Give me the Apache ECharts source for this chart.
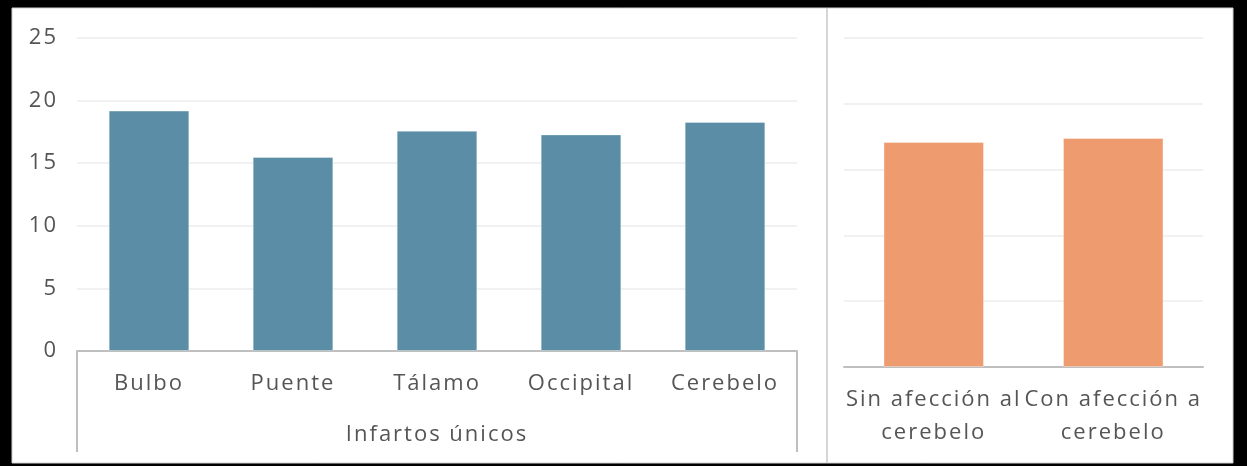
<!DOCTYPE html>
<html>
<head>
<meta charset="utf-8">
<script src="https://cdn.jsdelivr.net/npm/echarts@6/dist/echarts.min.js"></script>
<style>
html,body{margin:0;padding:0;background:#000;}
#chart{width:1247px;height:466px;}
</style>
</head>
<body>
<div id="chart"></div>
<script>
// ---- data ----
const categoriesLeft = ['Bulbo', 'Puente', 'Tálamo', 'Occipital', 'Cerebelo'];
const valuesLeft = [19.2, 15.5, 17.6, 17.3, 18.3];
const groupLabelLeft = ['Infartos únicos'];
const categoriesRight = ['Sin afección al\ncerebelo', 'Con afección a\ncerebelo'];
const valuesRight = [17.1, 17.4];
const yMin = 0, yMax = 25, yStep = 5;

// slight letter spacing to mimic the original text rendering
(function () {
  const p = CanvasRenderingContext2D.prototype;
  const orig = p.fillText;
  p.fillText = function () {
    if ('letterSpacing' in this) this.letterSpacing = '2px';
    return orig.apply(this, arguments);
  };
})();

const FONT = 'Open Sans';
const TXT = '#555555';
const AXIS = '#bfbfbf';
const GRID = '#ededed';

const chart = echarts.init(document.getElementById('chart'), null, { renderer: 'canvas' });
chart.setOption({
  backgroundColor: '#000',
  animation: false,
  textStyle: { fontFamily: FONT },
  graphic: [
    { type: 'rect', z: -10, shape: { x: 12, y: 8, width: 1221, height: 455 },
      style: { fill: '#fff', stroke: '#d0d0d0', lineWidth: 1 } },
    { type: 'line', z: -9, shape: { x1: 827, y1: 8, x2: 827, y2: 463 },
      style: { stroke: '#d6d6d6', lineWidth: 2 } }
  ],
  grid: [
    { left: 77, top: 38, width: 720, height: 313 },
    { left: 844, top: 38, width: 359, height: 329 }
  ],
  xAxis: [
    { type: 'category', gridIndex: 0, data: categoriesLeft,
      axisLine: { lineStyle: { color: AXIS, width: 2 } },
      axisTick: { show: false },
      axisLabel: { interval: 0, margin: 22, fontSize: 22, color: TXT, fontFamily: FONT } },
    { type: 'category', gridIndex: 0, position: 'bottom', data: groupLabelLeft,
      axisLine: { show: false },
      axisTick: { show: true, length: 101, lineStyle: { color: AXIS, width: 2 } },
      axisLabel: { interval: 0, margin: 73, fontSize: 22, color: TXT, fontFamily: FONT } },
    { type: 'category', gridIndex: 1, data: categoriesRight,
      axisLine: { lineStyle: { color: AXIS, width: 2 } },
      axisTick: { show: false },
      axisLabel: { interval: 0, margin: 16, fontSize: 22, lineHeight: 33, color: TXT, fontFamily: FONT } }
  ],
  yAxis: [
    { type: 'value', gridIndex: 0, min: yMin, max: yMax, interval: yStep,
      axisLine: { show: false }, axisTick: { show: false },
      splitLine: { lineStyle: { color: GRID, width: 1.5 } },
      axisLabel: { margin: 19, fontSize: 22, color: TXT, fontFamily: FONT } },
    { type: 'value', gridIndex: 1, min: yMin, max: yMax, interval: yStep,
      axisLine: { show: false }, axisTick: { show: false },
      splitLine: { lineStyle: { color: GRID, width: 1.5 } },
      axisLabel: { show: false } }
  ],
  series: [
    { type: 'bar', xAxisIndex: 0, yAxisIndex: 0, data: valuesLeft, barWidth: '56%',
      itemStyle: { color: '#5B8EA6', borderColor: 'rgba(255,255,255,0.35)', borderWidth: 1 } },
    { type: 'bar', xAxisIndex: 2, yAxisIndex: 1, data: valuesRight, barWidth: '56%',
      itemStyle: { color: '#EF9B70', borderColor: 'rgba(255,255,255,0.35)', borderWidth: 1 } }
  ]
});
</script>
</body>
</html>
